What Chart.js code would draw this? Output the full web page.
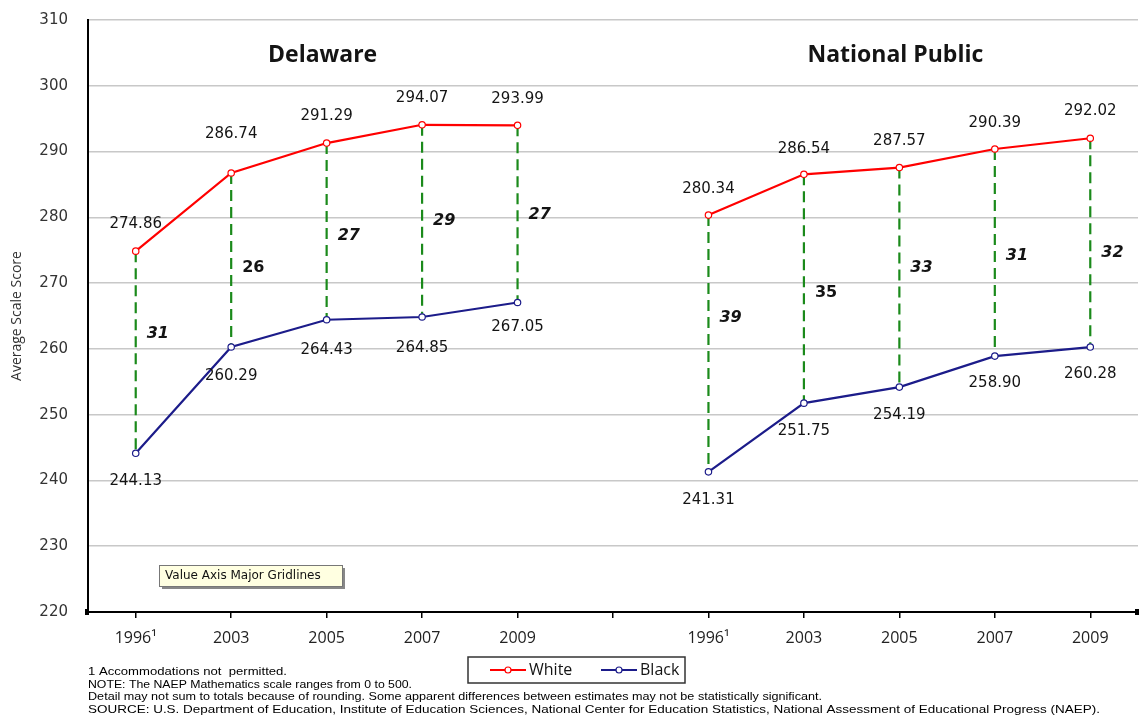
<!DOCTYPE html>
<html>
<head>
<meta charset="utf-8">
<title>NAEP Mathematics - White/Black score gap</title>
<script src="https://cdn.jsdelivr.net/npm/chart.js"></script>
<style>
  body { margin: 0; background: #ffffff; }
  #wrap { width: 1139px; height: 722px; }
</style>
</head>
<body>
<div id="wrap"><canvas id="chart" width="1139" height="722"></canvas></div>
<script>
// Data
const categories = ['1996\u00b9', '2003', '2005', '2007', '2009', '', '1996\u00b9', '2003', '2005', '2007', '2009'];
const whiteScores = [274.86, 286.74, 291.29, 294.07, 293.99, null, 280.34, 286.54, 287.57, 290.39, 292.02];
const blackScores = [244.13, 260.29, 264.43, 264.85, 267.05, null, 241.31, 251.75, 254.19, 258.90, 260.28];
const scoreGaps = [31, 26, 27, 29, 27, null, 39, 35, 33, 31, 32];
const gapItalic = [true, false, true, true, true, null, true, false, true, true, true];
const panelTitles = ['Delaware', 'National Public'];
const panelTitleAt = [2, 8];
const yMin = 220, yMax = 310, yStep = 10;

const footnotes = [
  '1 Accommodations not  permitted.',
  'NOTE: The NAEP Mathematics scale ranges from 0 to 500.',
  'Detail may not sum to totals because of rounding. Some apparent differences between estimates may not be statistically significant.',
  'SOURCE: U.S. Department of Education, Institute of Education Sciences, National Center for Education Statistics, National Assessment of Educational Progress (NAEP).'
];

// label nudges (pixels) so the texts sit like in the original
const whiteLabelDy = [-27, -39, -27, -27, -26, 0, -26, -25, -26, -26, -27];
const blackLabelDy = [28, 29, 30, 31, 25, 0, 28, 28, 28, 27, 27];
const gapLabelDy = [-18, 8, 4, 0, 1, 0, -26, 4, -9, 3, 10];
const footnoteWidths = [199, 324, 734, 1012];

const WHITE = '#ff0000';
const BLACK = '#1c1c8a';
const GAP = '#1b8a1b';
const TEXT = '#141414';

const overlay = {
  id: 'overlay',
  beforeDatasetsDraw(chart) {
    const { ctx, scales: { x, y } } = chart;
    ctx.save();
    ctx.strokeStyle = GAP;
    ctx.lineWidth = 2.2;
    ctx.setLineDash([11, 6]);
    scoreGaps.forEach((g, i) => {
      if (g == null) return;
      const px = x.getPixelForValue(i);
      ctx.beginPath();
      ctx.moveTo(px, y.getPixelForValue(whiteScores[i]));
      ctx.lineTo(px, y.getPixelForValue(blackScores[i]));
      ctx.stroke();
    });
    ctx.restore();
  },
  afterDatasetsDraw(chart) {
    const { ctx, scales: { x, y } } = chart;
    ctx.save();
    ctx.fillStyle = TEXT;
    ctx.textAlign = 'center';
    ctx.textBaseline = 'middle';

    // panel titles
    ctx.font = 'bold 23px "Open Sans", sans-serif';
    panelTitles.forEach((t, k) => {
      ctx.fillText(t, x.getPixelForValue(panelTitleAt[k]) - 4, 55);
    });

    // value labels
    ctx.font = '15px "DejaVu Sans", sans-serif';
    whiteScores.forEach((v, i) => {
      if (v == null) return;
      ctx.fillText(v.toFixed(2), x.getPixelForValue(i), y.getPixelForValue(v) + whiteLabelDy[i]);
    });
    blackScores.forEach((v, i) => {
      if (v == null) return;
      ctx.fillText(v.toFixed(2), x.getPixelForValue(i), y.getPixelForValue(v) + blackLabelDy[i]);
    });

    // gap labels
    ctx.textAlign = 'left';
    scoreGaps.forEach((g, i) => {
      if (g == null) return;
      ctx.font = (gapItalic[i] ? 'italic ' : '') + 'bold 16px "DejaVu Sans", sans-serif';
      const mid = (y.getPixelForValue(whiteScores[i]) + y.getPixelForValue(blackScores[i])) / 2;
      ctx.fillText(String(g), x.getPixelForValue(i) + 11, mid + gapLabelDy[i]);
    });
    ctx.restore();
  },
  afterDraw(chart) {
    const { ctx, chartArea } = chart;
    ctx.save();

    // little end markers on the x axis
    ctx.fillStyle = '#000';
    ctx.fillRect(chartArea.right - 3, chartArea.bottom - 3, 4, 6);
    ctx.fillRect(chartArea.left - 3, chartArea.bottom - 3, 4, 6);

    // "Value Axis Major Gridlines" hover box
    ctx.fillStyle = '#888';
    ctx.fillRect(162, 568, 183, 21);
    ctx.fillStyle = '#ffffe1';
    ctx.fillRect(159, 565, 183, 21);
    ctx.strokeStyle = '#777';
    ctx.lineWidth = 1;
    ctx.strokeRect(159.5, 565.5, 183, 21);
    ctx.fillStyle = '#111';
    ctx.font = '12px "DejaVu Sans", sans-serif';
    ctx.textAlign = 'left';
    ctx.textBaseline = 'middle';
    ctx.fillText('Value Axis Major Gridlines', 165, 576, 172);

    // legend
    ctx.strokeStyle = '#333';
    ctx.lineWidth = 1.5;
    ctx.strokeRect(468, 657, 217, 26);
    const legendX = [490, 601];
    ctx.font = '16px "Open Sans", sans-serif';
    chart.data.datasets.forEach((ds, k) => {
      const lx = legendX[k];
      ctx.strokeStyle = ds.borderColor;
      ctx.lineWidth = 2;
      ctx.beginPath();
      ctx.moveTo(lx, 670);
      ctx.lineTo(lx + 36, 670);
      ctx.stroke();
      ctx.fillStyle = '#fff';
      ctx.beginPath();
      ctx.arc(lx + 18, 670, 3, 0, Math.PI * 2);
      ctx.fill();
      ctx.lineWidth = 1.2;
      ctx.stroke();
      ctx.fillStyle = TEXT;
      ctx.fillText(ds.label, lx + 39, 670);
    });

    // footnotes, squeezed to the widths of the original narrow type
    ctx.fillStyle = '#000';
    ctx.font = '11px "Liberation Sans", sans-serif';
    footnotes.forEach((t, k) => {
      const w = ctx.measureText(t).width;
      ctx.save();
      ctx.translate(88, 672 + k * 12.6);
      ctx.scale(footnoteWidths[k] / w, 1);
      ctx.fillText(t, 0, 0);
      ctx.restore();
    });
    ctx.restore();
  }
};

const ctx = document.getElementById('chart').getContext('2d');
const chart = new Chart(ctx, {
  type: 'line',
  data: {
    labels: categories,
    datasets: [
      {
        label: 'White',
        data: whiteScores,
        borderColor: WHITE,
        backgroundColor: '#ffffff',
        borderWidth: 2.2,
        pointRadius: 3.2,
        pointBorderWidth: 1.2,
        tension: 0,
        spanGaps: false
      },
      {
        label: 'Black',
        data: blackScores,
        borderColor: BLACK,
        backgroundColor: '#ffffff',
        borderWidth: 2.2,
        pointRadius: 3.2,
        pointBorderWidth: 1.2,
        tension: 0,
        spanGaps: false
      }
    ]
  },
  options: {
    responsive: false,
    animation: false,
    layout: { autoPadding: false, padding: { left: 0, top: 20, right: 1, bottom: 70 } },
    plugins: {
      legend: { display: false },
      tooltip: { enabled: false },
      title: { display: false }
    },
    scales: {
      x: {
        type: 'category',
        offset: true,
        grid: { display: true, drawOnChartArea: false, drawTicks: true, tickLength: 6, color: '#000', lineWidth: 1.5 },
        border: { display: true, color: '#000', width: 2 },
        ticks: {
          autoSkip: false,
          maxRotation: 0,
          padding: 11,
          color: '#222',
          font: { family: '"Open Sans", sans-serif', size: 16 }
        },
        afterFit(scale) { scale.height = 40; }
      },
      y: {
        min: yMin,
        max: yMax,
        grid: { color: '#c8c8c8', lineWidth: 1.5, drawTicks: true, tickLength: 20, tickColor: 'rgba(0,0,0,0)' },
        border: { display: true, color: '#000', width: 2 },
        ticks: {
          stepSize: yStep,
          padding: 0,
          color: '#333',
          font: { family: '"DejaVu Sans", sans-serif', size: 15 }
        },
        title: {
          display: true,
          text: 'Average Scale Score',
          color: '#333',
          padding: { top: 9, bottom: 0 },
          font: { family: '"Open Sans", sans-serif', size: 14 }
        },
        afterFit(scale) { scale.width = 88; }
      }
    }
  },
  plugins: [overlay]
});
</script>
</body>
</html>
